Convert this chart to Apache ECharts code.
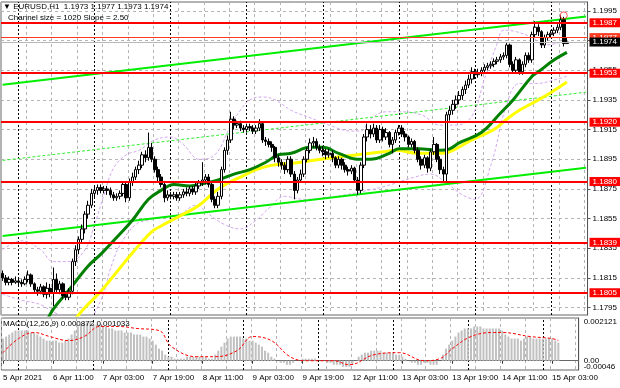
<!DOCTYPE html>
<html>
<head>
<meta charset="utf-8">
<script src="https://cdn.jsdelivr.net/npm/echarts@6/dist/echarts.min.js"></script>
<style>
  html, body { margin: 0; padding: 0; background: #fff; }
  #chart { width: 620px; height: 388px; }
</style>
</head>
<body>
<div id="chart"></div>
<script>
const FONT = 'Liberation Sans, DejaVu Sans, sans-serif'

// EURUSD H1 bars from 5 Apr 2021 19:00, [open, close, low, high]
const candles = [
  [1.1818, 1.1815, 1.1813, 1.1820], [1.1815, 1.1812, 1.1810, 1.1817], [1.1812, 1.1814, 1.1810, 1.1816],
  [1.1814, 1.1812, 1.1810, 1.1815], [1.1812, 1.1813, 1.1811, 1.1816], [1.1813, 1.1812, 1.1810, 1.1815],
  [1.1812, 1.1811, 1.1809, 1.1814], [1.1811, 1.1814, 1.1810, 1.1816], [1.1814, 1.1817, 1.1812, 1.1820],
  [1.1817, 1.1811, 1.1809, 1.1818], [1.1811, 1.1807, 1.1805, 1.1812], [1.1807, 1.1806, 1.1803, 1.1809],
  [1.1806, 1.1809, 1.1804, 1.1811], [1.1809, 1.1804, 1.1802, 1.1810], [1.1804, 1.1808, 1.1801, 1.1812],
  [1.1808, 1.1805, 1.1802, 1.1811], [1.1805, 1.1814, 1.1796, 1.1822], [1.1814, 1.1807, 1.1805, 1.1818],
  [1.1807, 1.1811, 1.1804, 1.1813], [1.1811, 1.1803, 1.1801, 1.1812], [1.1803, 1.1802, 1.1800, 1.1806],
  [1.1802, 1.1806, 1.1800, 1.1808], [1.1806, 1.1826, 1.1804, 1.1828], [1.1826, 1.1834, 1.1823, 1.1837],
  [1.1834, 1.1841, 1.1831, 1.1843], [1.1841, 1.1848, 1.1838, 1.1851], [1.1848, 1.1858, 1.1845, 1.1860],
  [1.1858, 1.1864, 1.1855, 1.1867], [1.1864, 1.1872, 1.1862, 1.1875], [1.1872, 1.1874, 1.1869, 1.1877],
  [1.1874, 1.1876, 1.1871, 1.1878], [1.1876, 1.1874, 1.1872, 1.1878], [1.1874, 1.1875, 1.1872, 1.1877],
  [1.1875, 1.1874, 1.1871, 1.1877], [1.1874, 1.1871, 1.1869, 1.1876], [1.1871, 1.1869, 1.1867, 1.1873],
  [1.1869, 1.1870, 1.1867, 1.1872], [1.1870, 1.1872, 1.1868, 1.1874], [1.1872, 1.1878, 1.1870, 1.1880],
  [1.1878, 1.1869, 1.1866, 1.1880], [1.1869, 1.1880, 1.1867, 1.1882], [1.1880, 1.1883, 1.1877, 1.1886],
  [1.1883, 1.1888, 1.1881, 1.1890], [1.1888, 1.1891, 1.1885, 1.1894], [1.1891, 1.1898, 1.1889, 1.1900],
  [1.1898, 1.1896, 1.1893, 1.1901], [1.1896, 1.1903, 1.1894, 1.1913], [1.1903, 1.1895, 1.1893, 1.1906],
  [1.1895, 1.1888, 1.1886, 1.1897], [1.1888, 1.1883, 1.1880, 1.1890], [1.1883, 1.1878, 1.1876, 1.1885],
  [1.1878, 1.1869, 1.1866, 1.1880], [1.1869, 1.1871, 1.1867, 1.1874], [1.1871, 1.1870, 1.1868, 1.1873],
  [1.1870, 1.1871, 1.1868, 1.1873], [1.1871, 1.1869, 1.1867, 1.1873], [1.1869, 1.1871, 1.1867, 1.1873],
  [1.1871, 1.1873, 1.1869, 1.1875], [1.1873, 1.1872, 1.1870, 1.1876], [1.1872, 1.1875, 1.1870, 1.1877],
  [1.1875, 1.1873, 1.1871, 1.1877], [1.1873, 1.1877, 1.1871, 1.1879], [1.1877, 1.1879, 1.1875, 1.1881],
  [1.1879, 1.1881, 1.1877, 1.1893], [1.1881, 1.1883, 1.1878, 1.1885], [1.1883, 1.1878, 1.1876, 1.1885],
  [1.1878, 1.1868, 1.1866, 1.1880], [1.1868, 1.1864, 1.1862, 1.1870], [1.1864, 1.1870, 1.1862, 1.1873],
  [1.1870, 1.1888, 1.1868, 1.1890], [1.1888, 1.1901, 1.1886, 1.1903], [1.1901, 1.1908, 1.1898, 1.1911],
  [1.1908, 1.1922, 1.1906, 1.1927], [1.1922, 1.1918, 1.1915, 1.1924], [1.1918, 1.1919, 1.1916, 1.1921],
  [1.1919, 1.1916, 1.1914, 1.1921], [1.1916, 1.1915, 1.1913, 1.1918], [1.1915, 1.1917, 1.1913, 1.1919],
  [1.1917, 1.1916, 1.1914, 1.1919], [1.1916, 1.1914, 1.1912, 1.1918], [1.1914, 1.1916, 1.1912, 1.1918],
  [1.1916, 1.1919, 1.1914, 1.1922], [1.1919, 1.1908, 1.1906, 1.1920], [1.1908, 1.1907, 1.1904, 1.1910],
  [1.1907, 1.1905, 1.1903, 1.1909], [1.1905, 1.1903, 1.1900, 1.1907], [1.1903, 1.1896, 1.1893, 1.1904],
  [1.1896, 1.1893, 1.1890, 1.1898], [1.1893, 1.1891, 1.1888, 1.1895], [1.1891, 1.1888, 1.1885, 1.1893],
  [1.1888, 1.1895, 1.1886, 1.1897], [1.1895, 1.1885, 1.1883, 1.1897], [1.1885, 1.1874, 1.1868, 1.1887],
  [1.1874, 1.1881, 1.1872, 1.1883], [1.1881, 1.1885, 1.1879, 1.1888], [1.1885, 1.1895, 1.1883, 1.1897],
  [1.1895, 1.1901, 1.1893, 1.1903], [1.1901, 1.1906, 1.1899, 1.1909], [1.1906, 1.1907, 1.1903, 1.1910],
  [1.1907, 1.1903, 1.1901, 1.1909], [1.1903, 1.1901, 1.1899, 1.1905], [1.1901, 1.1900, 1.1897, 1.1904],
  [1.1900, 1.1898, 1.1895, 1.1902], [1.1898, 1.1899, 1.1896, 1.1902], [1.1899, 1.1896, 1.1893, 1.1901],
  [1.1896, 1.1891, 1.1889, 1.1897], [1.1891, 1.1895, 1.1889, 1.1897], [1.1895, 1.1891, 1.1888, 1.1896],
  [1.1891, 1.1888, 1.1886, 1.1893], [1.1888, 1.1887, 1.1884, 1.1890], [1.1887, 1.1889, 1.1885, 1.1891],
  [1.1889, 1.1881, 1.1879, 1.1890], [1.1881, 1.1874, 1.1871, 1.1883], [1.1874, 1.1891, 1.1872, 1.1893],
  [1.1891, 1.1910, 1.1889, 1.1912], [1.1910, 1.1915, 1.1907, 1.1919], [1.1915, 1.1912, 1.1909, 1.1918],
  [1.1912, 1.1916, 1.1910, 1.1919], [1.1916, 1.1908, 1.1906, 1.1918], [1.1908, 1.1915, 1.1906, 1.1918],
  [1.1915, 1.1910, 1.1907, 1.1917], [1.1910, 1.1913, 1.1908, 1.1916], [1.1913, 1.1905, 1.1903, 1.1914],
  [1.1905, 1.1908, 1.1899, 1.1910], [1.1908, 1.1913, 1.1906, 1.1915], [1.1913, 1.1916, 1.1911, 1.1918],
  [1.1916, 1.1912, 1.1910, 1.1918], [1.1912, 1.1910, 1.1907, 1.1914], [1.1910, 1.1905, 1.1903, 1.1911],
  [1.1905, 1.1907, 1.1903, 1.1909], [1.1907, 1.1901, 1.1899, 1.1908], [1.1901, 1.1895, 1.1893, 1.1903],
  [1.1895, 1.1891, 1.1888, 1.1897], [1.1891, 1.1896, 1.1889, 1.1898], [1.1896, 1.1889, 1.1886, 1.1897],
  [1.1889, 1.1900, 1.1887, 1.1902], [1.1900, 1.1905, 1.1898, 1.1910], [1.1905, 1.1895, 1.1893, 1.1906],
  [1.1895, 1.1888, 1.1885, 1.1897], [1.1888, 1.1885, 1.1879, 1.1890], [1.1885, 1.1925, 1.1879, 1.1927],
  [1.1925, 1.1928, 1.1921, 1.1931], [1.1928, 1.1932, 1.1925, 1.1935], [1.1932, 1.1935, 1.1929, 1.1938],
  [1.1935, 1.1938, 1.1932, 1.1941], [1.1938, 1.1942, 1.1935, 1.1944], [1.1942, 1.1945, 1.1939, 1.1948],
  [1.1945, 1.1949, 1.1943, 1.1952], [1.1949, 1.1954, 1.1946, 1.1957], [1.1954, 1.1952, 1.1949, 1.1956],
  [1.1952, 1.1953, 1.1950, 1.1956], [1.1953, 1.1955, 1.1951, 1.1957], [1.1955, 1.1957, 1.1953, 1.1959],
  [1.1957, 1.1958, 1.1955, 1.1960], [1.1958, 1.1959, 1.1956, 1.1961], [1.1959, 1.1961, 1.1957, 1.1963],
  [1.1961, 1.1962, 1.1959, 1.1964], [1.1962, 1.1964, 1.1960, 1.1966], [1.1964, 1.1965, 1.1962, 1.1967],
  [1.1965, 1.1972, 1.1963, 1.1974], [1.1972, 1.1959, 1.1957, 1.1973], [1.1959, 1.1955, 1.1953, 1.1961],
  [1.1955, 1.1962, 1.1953, 1.1964], [1.1962, 1.1954, 1.1952, 1.1963], [1.1954, 1.1959, 1.1952, 1.1961],
  [1.1959, 1.1965, 1.1957, 1.1967], [1.1965, 1.1962, 1.1960, 1.1967], [1.1962, 1.1979, 1.1960, 1.1981],
  [1.1979, 1.1984, 1.1977, 1.1988], [1.1984, 1.1981, 1.1978, 1.1986], [1.1981, 1.1972, 1.1970, 1.1982],
  [1.1972, 1.1977, 1.1970, 1.1979], [1.1977, 1.1979, 1.1975, 1.1981], [1.1979, 1.1980, 1.1977, 1.1982],
  [1.1980, 1.1982, 1.1978, 1.1984], [1.1982, 1.1984, 1.1980, 1.1986], [1.1984, 1.1989, 1.1982, 1.1992],
  [1.1989, 1.1973, 1.1971, 1.1991], [1.1973, 1.1974, 1.1973, 1.1977]
]

// 30 and 50 period moving averages, read at [bar, price]
const maFast = [
  [14, 1.1786], [16, 1.1794], [21, 1.1807], [27, 1.1823], [31, 1.1831], [35, 1.1840], [41, 1.1854],
  [46, 1.1868], [50, 1.1874], [54, 1.1878], [59, 1.1877], [64, 1.1879], [68, 1.1881], [73, 1.1885],
  [78, 1.1888], [83, 1.1893], [87, 1.1898], [91, 1.1899], [97, 1.1903], [101, 1.1903], [106, 1.1899],
  [112, 1.1895], [116, 1.1895], [122, 1.1899], [125, 1.1902], [131, 1.1902], [138, 1.1901], [141, 1.1902],
  [144, 1.1906], [151, 1.1913], [157, 1.1926], [161, 1.1935], [167, 1.1951], [169, 1.1954], [174, 1.1962],
  [178, 1.1967]
]
const maSlow = [
  [22, 1.1785], [26, 1.1795], [31, 1.1806], [36, 1.1819], [41, 1.1832], [47, 1.1846], [50, 1.1850],
  [57, 1.1858], [62, 1.1864], [68, 1.1875], [75, 1.1883], [83, 1.1890], [94, 1.1893], [104, 1.1896],
  [112, 1.1898], [120, 1.1900], [124, 1.1901], [131, 1.1899], [138, 1.1899], [141, 1.1900], [148, 1.1908],
  [155, 1.1915], [159, 1.1922], [163, 1.1928], [169, 1.1935], [173, 1.1940], [178, 1.1947]
]

// band envelope (dashed violet)
const bandUpper = [
  [0, 1.1834], [6, 1.1840], [12, 1.1834], [16, 1.1826], [21, 1.1826], [26, 1.1834], [29, 1.1851],
  [32, 1.1871], [35, 1.1889], [39, 1.1898], [43, 1.1901], [48, 1.1908], [53, 1.1910], [57, 1.1905],
  [62, 1.1895], [67, 1.1898], [72, 1.1918], [75, 1.1928], [78, 1.1935], [82, 1.1937], [86, 1.1935],
  [91, 1.1928], [97, 1.1923], [103, 1.1918], [110, 1.1914], [113, 1.1914], [116, 1.1922], [121, 1.1927],
  [125, 1.1927], [132, 1.1925], [138, 1.1918], [143, 1.1918], [148, 1.1924], [152, 1.1949], [156, 1.1973],
  [158, 1.1982], [162, 1.1981], [167, 1.1977], [171, 1.1972], [178, 1.1975]
]
const bandLower = [
  [0, 1.1804], [6, 1.1800], [12, 1.1797], [16, 1.1792], [21, 1.1788], [26, 1.1786], [31, 1.1800],
  [34, 1.1821], [37, 1.1837], [42, 1.1851], [46, 1.1854], [51, 1.1856], [56, 1.1858], [61, 1.1864],
  [65, 1.1858], [70, 1.1851], [75, 1.1848], [80, 1.1854], [84, 1.1862], [89, 1.1870], [95, 1.1868],
  [105, 1.1870], [113, 1.1873], [121, 1.1877], [130, 1.1883], [135, 1.1885], [140, 1.1879], [145, 1.1871],
  [149, 1.1868], [154, 1.1891], [159, 1.1932], [163, 1.1946], [168, 1.1946], [175, 1.1949], [178, 1.1951]
]

// equidistant channel, size 1020 points
const channelUpper = [[0, 1.19452], [184, 1.19912]]
const channelMiddle = [[0, 1.18942], [184, 1.19402]]
const channelLower = [[0, 1.18432], [184, 1.18892]]

const levels = [1.1987, 1.1953, 1.1920, 1.1880, 1.1839, 1.1805]
const priceTicks = [1.1795, 1.1815, 1.1835, 1.1855, 1.1875, 1.1895, 1.1915, 1.1935, 1.1955, 1.1975, 1.1995]
const highMark = [[177, 1.1992]]

// MACD(12,26,9)
const macdHist = [
  0.0011, 0.0012, 0.0013, 0.0014, 0.0015, 0.0015, 0.0015, 0.0015, 0.0015, 0.0014,
  0.0014, 0.0013, 0.0012, 0.0011, 0.0010, 0.0010, 0.0010, 0.0010, 0.0009, 0.0009,
  0.0010, 0.0011, 0.0013, 0.0015, 0.0017, 0.0018, 0.0019, 0.0019, 0.0019, 0.0018,
  0.0018, 0.0018, 0.0017, 0.0017, 0.0016, 0.0016, 0.0015, 0.0015, 0.0015, 0.0014,
  0.0014, 0.0014, 0.0013, 0.0013, 0.0013, 0.0012, 0.0012, 0.0011, 0.0010, 0.0008,
  0.0006, 0.0005, 0.0003, 0.0002, 0.0002, 0.0001, 0.0001, 0.0001, 0.0001, 0.0002,
  0.0002, 0.0002, 0.0002, 0.0002, 0.0002, 0.0002, 0.0001, 0.0001, 0.0003, 0.0005,
  0.0007, 0.0009, 0.0011, 0.0012, 0.0012, 0.0012, 0.0012, 0.0011, 0.0011, 0.0010,
  0.0010, 0.0009, 0.0008, 0.0007, 0.0005, 0.0004, 0.0002, 0.0001, 0.0000, -0.0001,
  -0.0001, -0.0002, -0.0002, -0.0001, 0.0000, 0.0000, 0.0001, 0.0001, 0.0001, 0.0001,
  0.0001, 0.0000, 0.0000, 0.0000, -0.0001, -0.0001, -0.0002, -0.0002, -0.0002, -0.0003,
  -0.0003, -0.0003, -0.0002, 0.0000, 0.0002, 0.0003, 0.0004, 0.0004, 0.0005, 0.0005,
  0.0005, 0.0005, 0.0004, 0.0004, 0.0004, 0.0004, 0.0003, 0.0003, 0.0002, 0.0001,
  0.0000, -0.0001, -0.0001, -0.0002, -0.0002, -0.0001, -0.0001, -0.0002, -0.0002, -0.0002,
  0.0000, 0.0003, 0.0006, 0.0008, 0.0010, 0.0012, 0.0014, 0.0015, 0.0016, 0.0016,
  0.0016, 0.0017, 0.0017, 0.0017, 0.0016, 0.0016, 0.0016, 0.0016, 0.0016, 0.0016,
  0.0015, 0.0013, 0.0012, 0.0011, 0.0011, 0.0011, 0.0010, 0.0011, 0.0012, 0.0012,
  0.0011, 0.0011, 0.0011, 0.0011, 0.0011, 0.0011, 0.0011, 0.0010, 0.0009
]
const macdSignal = [
  [0, 0.0004], [5, 0.0011], [10, 0.0014], [15, 0.0012], [21, 0.0010], [26, 0.0012], [31, 0.0017],
  [37, 0.0017], [43, 0.0016], [50, 0.0015], [54, 0.0007], [62, 0.0002], [68, 0.0002], [75, 0.0005],
  [80, 0.0012], [86, 0.0010], [92, 0.0002], [97, 0.0000], [106, 0.0000], [111, -0.0002], [119, 0.0003],
  [127, 0.0004], [135, 0.0000], [140, 0.0001], [144, 0.0006], [150, 0.0012], [157, 0.0014], [160, 0.0014],
  [169, 0.0012], [176, 0.0011], [178, 0.0010]
]
// right-hand MACD labels: text and the value where it is printed
const macdLabels = [['0.002121', 0.00192], ['{a|0.00}\n{a|-0.00046}', -0.00014]]

const xTickLabels = ['5 Apr 2021', '6 Apr 11:00', '7 Apr 03:00', '7 Apr 19:00', '8 Apr 11:00', '9 Apr 03:00',
  '9 Apr 19:00', '12 Apr 11:00', '13 Apr 03:00', '13 Apr 19:00', '14 Apr 11:00', '15 Apr 03:00']
const daySeparators = [5, 29, 53, 77, 101, 125, 149, 173]

// one slot per hour, plus empty slots for the right margin
const slotCount = 185
const categories = []
for (let i = 0; i < slotCount; i++) categories.push(String(i))

const chart = echarts.init(document.getElementById('chart'), null, { renderer: 'canvas' })

const GRID_LINE = { color: '#b4b4b4', type: [3, 3], width: 1 }

const separatorMarks = () => ({
  silent: true, symbol: 'none', z: 1, precision: 6,
  label: { show: false },
  lineStyle: { color: '#000', type: [2, 2], width: 1 },
  data: daySeparators.map(i => ({ xAxis: categories[i] }))
})

const levelLabel = (text, bg) => ({
  show: true, position: 'end', distance: 2, formatter: text,
  backgroundColor: bg, color: '#fff', fontSize: 8, fontFamily: FONT,
  padding: [1, 4, 0, 3]
})

const levelMarks = levels.map(v => ({
  yAxis: v, lineStyle: { color: '#ff0000', width: 2, type: 'solid' },
  label: levelLabel(v.toFixed(4), '#ff0000')
}))
levelMarks.push({ yAxis: 1.1977, lineStyle: { color: '#ff3a20', width: 1, type: 'solid' }, label: levelLabel('1.1977', '#ff3a20') })
levelMarks.push({ yAxis: 1.1974, lineStyle: { color: '#b8b8b8', width: 1, type: 'solid' }, label: levelLabel('1.1974', '#000') })

const option = {
  animation: false,
  backgroundColor: '#fff',
  textStyle: { fontFamily: FONT },
  grid: [
    { left: 1, right: 32, top: 2, height: 313, show: true, borderColor: '#666', borderWidth: 1, backgroundColor: '#fff' },
    { left: 1, right: 32, top: 318, height: 52, show: true, borderColor: '#666', borderWidth: 1, backgroundColor: '#fff' }
  ],
  xAxis: [
    {
      type: 'category', gridIndex: 0, data: categories, boundaryGap: true,
      axisLine: { show: false }, axisTick: { show: false }, axisLabel: { show: false },
      splitLine: { show: true, interval: 7, lineStyle: GRID_LINE }
    },
    {
      type: 'category', gridIndex: 1, data: categories, boundaryGap: true,
      axisLine: { show: true, lineStyle: { color: '#666' } },
      axisTick: { show: true, interval: 15, alignWithLabel: true, length: 3, lineStyle: { color: '#333' } },
      axisLabel: {
        interval: 15, align: 'left', margin: 4, fontSize: 8, color: '#000', fontFamily: FONT,
        formatter: (v, i) => xTickLabels[Math.round(i / 16)] || ''
      },
      splitLine: { show: true, interval: 7, lineStyle: GRID_LINE }
    }
  ],
  yAxis: [
    {
      type: 'value', gridIndex: 0, position: 'right', min: 1.1790, max: 1.2001,
      axisLine: { show: true, lineStyle: { color: '#555' } },
      axisTick: { show: true, length: 3, customValues: priceTicks, lineStyle: { color: '#555' } },
      axisLabel: { customValues: priceTicks, formatter: v => v.toFixed(4), fontSize: 8, color: '#000', margin: 5, fontFamily: FONT },
      splitLine: { show: true, lineStyle: GRID_LINE }
    },
    {
      type: 'value', gridIndex: 1, position: 'right', min: -0.00046, max: 0.002121,
      axisLine: { show: true, lineStyle: { color: '#555' } },
      axisTick: { show: false, customValues: [0] },
      axisLabel: {
        customValues: macdLabels.map(m => m[1]), fontSize: 8, color: '#000', margin: 5, fontFamily: FONT,
        rich: { a: { fontSize: 8, lineHeight: 6, color: '#000', fontFamily: FONT } },
        formatter: v => {
          const hit = macdLabels.find(m => Math.abs(m[1] - v) < 1e-7)
          return hit ? hit[0] : ''
        }
      },
      splitLine: { show: true, lineStyle: GRID_LINE }
    }
  ],
  graphic: [
    { type: 'text', left: 3, top: 3, z: 100, style: { text: '\u25BC EURUSD,H1  1.1973 1.1977 1.1973 1.1974', fontSize: 8, fill: '#000', fontFamily: FONT } },
    { type: 'text', left: 8, top: 14, z: 100, style: { text: 'Channel size = 1020 Slope = 2.50', fontSize: 8, fill: '#000', fontFamily: FONT } },
    { type: 'text', left: 3, top: 320, z: 100, style: { text: 'MACD(12,26,9) 0.000872 0.001033', fontSize: 8, fill: '#000', fontFamily: FONT } }
  ],
  series: [
    {
      name: 'separators', type: 'line', xAxisIndex: 0, yAxisIndex: 0, data: [], z: 1,
      markLine: separatorMarks()
    },
    {
      name: 'macdSeparators', type: 'line', xAxisIndex: 1, yAxisIndex: 1, data: [], z: 1,
      markLine: separatorMarks()
    },
    {
      name: 'bandUpper', type: 'line', data: bandUpper, smooth: 0.4, symbol: 'none', z: 2,
      lineStyle: { color: '#d4a8f0', width: 1, type: [3, 2] }
    },
    {
      name: 'bandLower', type: 'line', data: bandLower, smooth: 0.4, symbol: 'none', z: 2,
      lineStyle: { color: '#d4a8f0', width: 1, type: [3, 2] }
    },
    {
      name: 'channelUpper', type: 'line', data: channelUpper, symbol: 'none', z: 3,
      lineStyle: { color: '#00ee00', width: 2 }
    },
    {
      name: 'channelMiddle', type: 'line', data: channelMiddle, symbol: 'none', z: 3,
      lineStyle: { color: '#33ee33', width: 1, type: [3, 2] }
    },
    {
      name: 'channelLower', type: 'line', data: channelLower, symbol: 'none', z: 3,
      lineStyle: { color: '#00ee00', width: 2 }
    },
    {
      name: 'maSlow', type: 'line', data: maSlow, smooth: 0.4, symbol: 'none', z: 4,
      lineStyle: { color: '#ffff00', width: 3 }
    },
    {
      name: 'maFast', type: 'line', data: maFast, smooth: 0.4, symbol: 'none', z: 4,
      lineStyle: { color: '#008000', width: 3 }
    },
    {
      name: 'EURUSD', type: 'candlestick', data: candles, barWidth: 3, z: 5,
      itemStyle: { color: '#ffffff', color0: '#000', borderColor: '#000', borderColor0: '#000', borderWidth: 1 },
      markLine: { silent: true, symbol: 'none', z: 6, precision: 6, data: levelMarks }
    },
    {
      name: 'high', type: 'scatter', data: highMark, symbol: 'circle', symbolSize: 7, z: 7,
      itemStyle: { color: 'rgba(0,0,0,0)', borderColor: '#ff3030', borderWidth: 1 }
    },
    {
      name: 'macd', type: 'bar', xAxisIndex: 1, yAxisIndex: 1, data: macdHist, barWidth: 2, z: 2,
      itemStyle: { color: '#c0c0c0' }
    },
    {
      name: 'signal', type: 'line', xAxisIndex: 1, yAxisIndex: 1, data: macdSignal, smooth: 0.4, symbol: 'none', z: 3,
      lineStyle: { color: '#ff0000', width: 1, type: [3, 2] }
    }
  ]
}

chart.setOption(option)
</script>
</body>
</html>
